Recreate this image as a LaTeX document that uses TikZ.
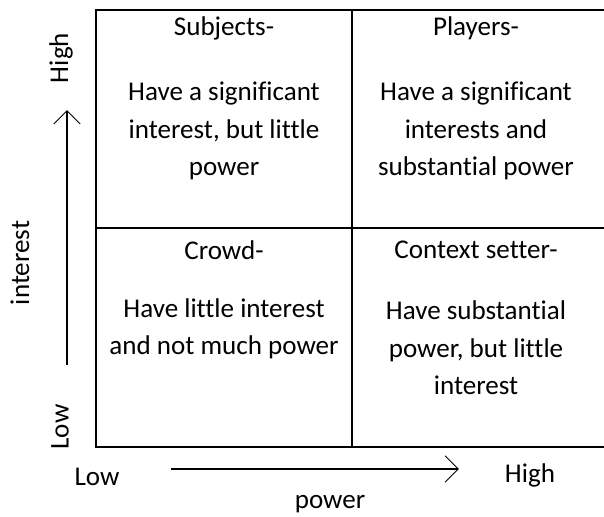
\documentclass[tikz,border=0pt]{standalone}
\usepackage{fontspec}
\setmainfont{Carlito}[Ligatures=NoCommon]
\usepackage{tikz}
\usetikzlibrary{arrows.meta}

\begin{document}
\begin{tikzpicture}[
    celltext/.style={align=center, font=\fontsize{15.4}{21.3}\selectfont},
    axislabel/.style={font=\fontsize{15.4}{18}\selectfont},
    gridline/.style={line width=1.2pt},
    axisarrow/.style={line width=0.6pt, -{Straight Barb[length=7.5pt, width=15pt]}}]
    \useasboundingbox (0,0) rectangle (12.08,10.32);

    % Grid (right side runs off the picture)
    \draw[gridline] (12.08,10.12) -- (1.92,10.12) -- (1.92,1.38) -- (12.08,1.38);
    \draw[gridline] (7.04,1.38) -- (7.04,10.12);
    \draw[gridline] (1.92,5.76) -- (12.08,5.76);

    % Quadrants
    \node[celltext] (subjects) at (4.48,9.76) {Subjects-};
    \node[celltext] (subjectsText) at (4.48,7.70) {Have a significant\\interest, but little\\power};
    \node[celltext] (players) at (9.52,9.76) {Players-};
    \node[celltext] (playersText) at (9.52,7.70) {Have a significant\\interests and\\substantial power};
    \node[celltext] (crowd) at (4.48,5.32) {Crowd-};
    \node[celltext] (crowdText) at (4.48,3.74) {Have little interest\\and not much power};
    \node[celltext] (setter) at (9.52,5.32) {Context setter-};
    \node[celltext] (setterText) at (9.52,3.36) {Have substantial\\power, but little\\interest};

    % Axes
    \coordinate (interestLow) at (1.34,3.02);
    \coordinate (interestHigh) at (1.34,8.12);
    \coordinate (powerLow) at (3.42,0.94);
    \coordinate (powerHigh) at (9.18,0.94);
    \draw[axisarrow] (interestLow) -- (interestHigh);
    \draw[axisarrow] (powerLow) -- (powerHigh);

    % Labels
    \node[axislabel, rotate=90] (yHigh) at (1.22,9.16) {High};
    \node[axislabel, rotate=90] (yLow) at (1.20,1.78) {Low};
    \node[axislabel, rotate=90] (yName) at (0.40,5.06) {interest};
    \node[axislabel] (xLow) at (1.94,0.78) {Low};
    \node[axislabel] (xHigh) at (10.60,0.82) {High};
    \node[axislabel] (xName) at (6.60,0.24) {power};
\end{tikzpicture}
\end{document}
